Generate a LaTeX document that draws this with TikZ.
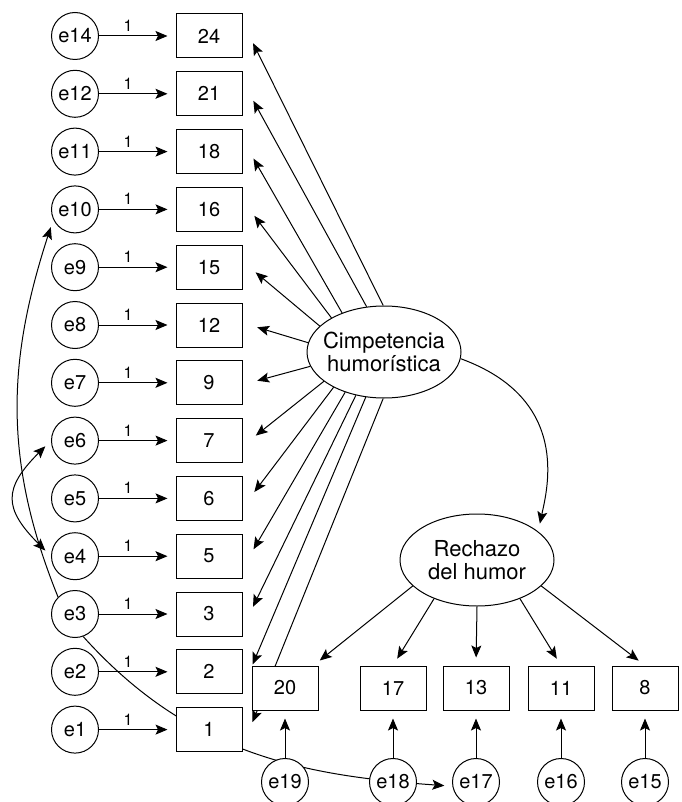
\documentclass[tikz,border=0pt]{standalone}
\usepackage{fontspec}
\setmainfont{TeX Gyre Heros}
\usetikzlibrary{arrows.meta,shapes.geometric,backgrounds,positioning}
\tikzset{
	err/.style={circle, draw, fill=white, minimum size=47pt, inner sep=0pt, font=\fontsize{20}{24}\selectfont},
	obs/.style={rectangle, draw, fill=white, minimum width=66pt, minimum height=44pt, inner sep=0pt, font=\fontsize{20}{24}\selectfont},
	lat/.style={ellipse, draw, fill=white, minimum width=154pt, minimum height=92pt, inner sep=0pt, align=center, font=\fontsize{22}{23.5}\selectfont},
	load/.style={line width=1pt, -{Stealth[length=12pt,width=10pt,inset=2.5pt]}, shorten >=8pt},
	both/.style={line width=1pt, {Stealth[length=12pt,width=10pt,inset=2.5pt]}-{Stealth[length=12pt,width=10pt,inset=2.5pt]}, shorten <=8pt, shorten >=8pt},
	wgt/.style={font=\fontsize{16}{18}\selectfont, pos=0.38, above=3pt, inner sep=1pt}
}
\begin{document}
\begin{tikzpicture}[x=1pt, y=-1pt, line width=1pt]
	\useasboundingbox (0,0) rectangle (681,802);

	\foreach \e/\b [count=\k from 0] in {14/24,12/21,11/18,10/16,9/15,8/12,7/9,6/7,5/6,4/5,3/3,2/2,1/1}{
		\node[err] (e\e) at (75,{36+57.8*\k}) {e\e};
		\node[obs] (b\b) at (209,{36+57.8*\k}) {\b};
	}
	\foreach \e/\b/\x in {19/20/285,18/17/393,17/13/476,16/11/561,15/8/645}{
		\node[obs] (b\b) at (\x,688) {\b};
		\node[err] (e\e) at (\x,782) {e\e};
	}
	\node[lat, inner xsep=-8pt] (cimp) at (384,352) {Cimpetencia\\humorística};
	\node[lat] (rech) at (477,560) {Rechazo\\del humor};

	\begin{scope}[on background layer]
		\foreach \e/\b in {14/24,12/21,11/18,10/16,9/15,8/12,7/9,6/7,5/6,4/5,3/3,2/2,1/1}
			\draw[load] (e\e) -- node[wgt] {1} (b\b);
		\foreach \b/\a in {24/91,21/111,18/137,16/147,15/158,12/173,9/191,7/206,6/215,5/226,3/237,2/248,1/269}
			\draw[load] (cimp.\a) -- ([xshift=7pt]b\b.east);
		\foreach \e/\b in {19/20,18/17,17/13,16/11,15/8}
			\draw[load] (e\e) -- (b\b);
		\draw[load] (rech.202) -- ([xshift=-5pt]b20.north east);
		\draw[load] (rech.222) -- (b17.north);
		\draw[load] (rech.270) -- (b13.north);
		\draw[load] (rech.318) -- (b11.north);
		\draw[load] (rech.338) -- (b8.north);
		\draw[load] (cimp.-5) to[out=-20, in=78, out distance=118pt, in distance=43pt] (rech.25);
		\draw[both] (e6.west) to[out=225, in=135, looseness=1.5] (e4.west);
		\draw[load] (e3.135) to[out=112, in=252] (e10.205);
		\draw[load] (e3.-70) to[out=-48, in=176] (e17.190);
	\end{scope}
\end{tikzpicture}
\end{document}
